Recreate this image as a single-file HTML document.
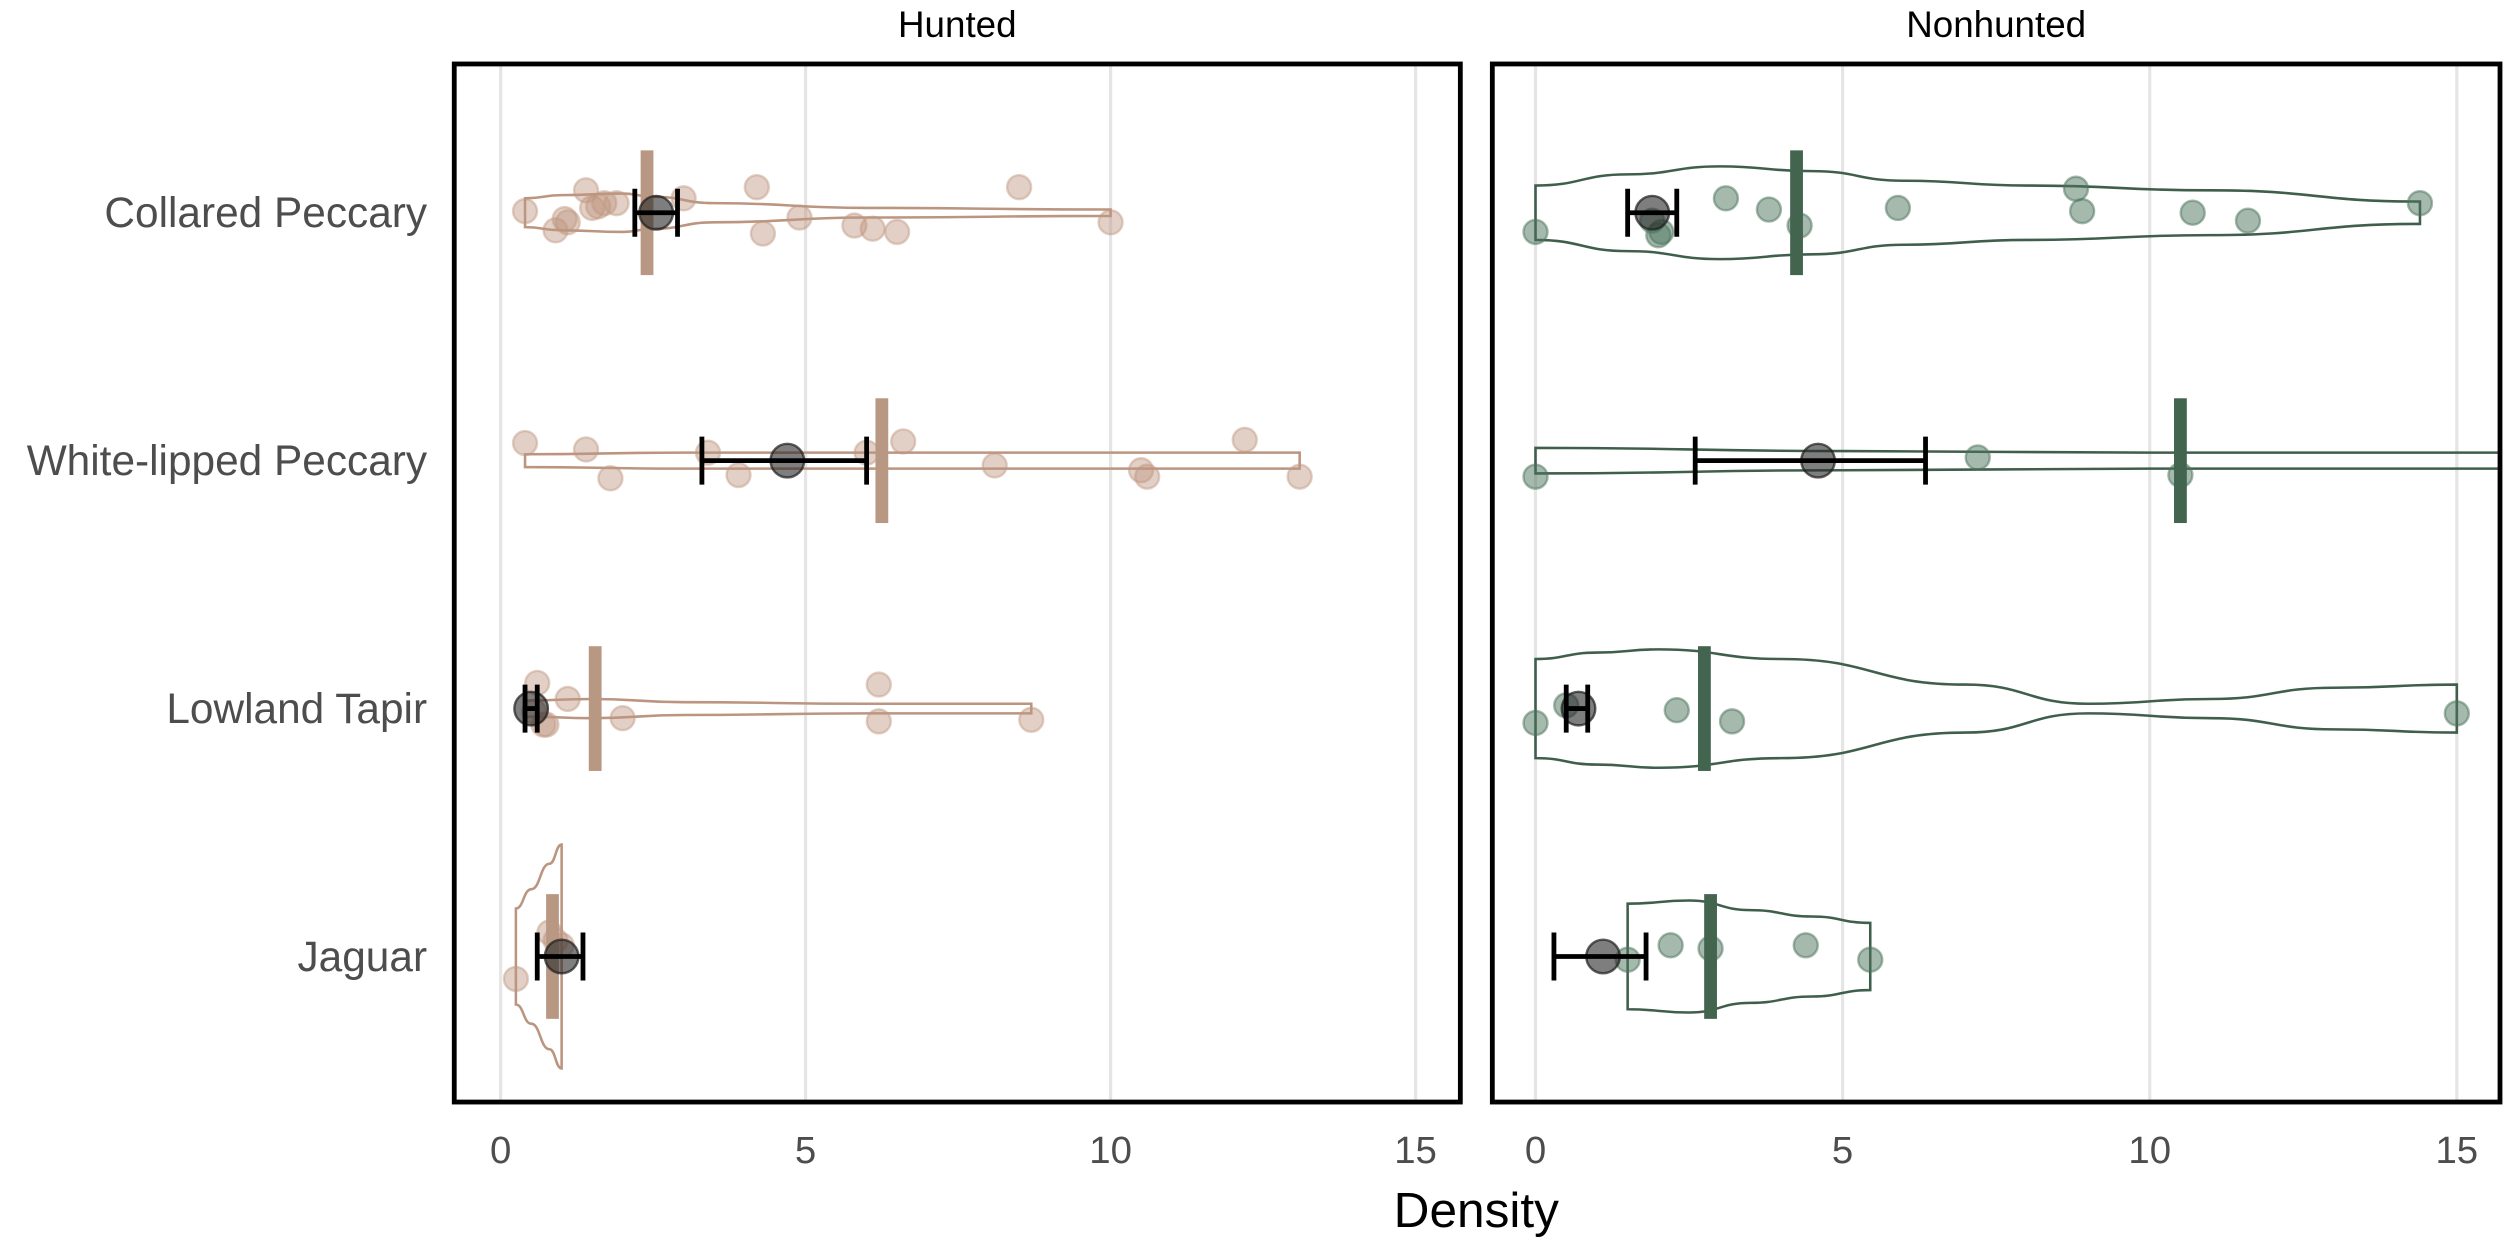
<!DOCTYPE html>
<html><head><meta charset="utf-8"><style>
html,body{margin:0;padding:0;background:#fff}
svg{display:block;font-family:"Liberation Sans",sans-serif}
</style></head><body>
<svg id="chart" width="2508" height="1244" viewBox="0 0 1568 777.75" xmlns="http://www.w3.org/2000/svg">
<defs>
<clipPath id="clipL"><rect x="285" y="41" width="627" height="647"/></clipPath>
<clipPath id="clipR"><rect x="934" y="41" width="628" height="647"/></clipPath>
</defs>
<g id="root"></g>
</svg>
<script>
const species = ["Collared Peccary","White-lipped Peccary","Lowland Tapir","Jaguar"];
const panels = ["Hunted","Nonhunted"];
const xTicks = [0,5,10,15];
// points: [value, vertical offset px]
const huntedPoints = [
 [[0.4,-1],[1.4,-14],[0.9,11],[1.1,6],[1.05,4],[1.5,-3],[1.6,-4],[1.7,-6],[1.9,-6],[3.0,-9],[4.2,-16],[4.3,13],[4.9,3],[5.8,8],[6.1,10],[6.5,12],[8.5,-16],[10.0,6]],
 [[0.4,-11],[1.4,-7],[1.8,11],[3.4,-5],[3.9,9],[6.0,-5],[6.6,-12],[8.1,3],[10.5,6],[10.6,10],[12.2,-13],[13.1,10]],
 [[0.6,-16],[0.55,2],[0.7,10],[0.75,10],[1.1,-6],[2.0,6],[6.2,-15],[6.2,8],[8.7,7]],
 [[0.25,14],[0.8,-15],[0.9,-10],[1.0,-7]]
];
const nonhuntedPoints = [
 [[0,12],[1.9,5],[2.0,14],[2.05,12],[3.1,-9],[3.8,-2],[4.3,8],[5.9,-3],[8.8,-15],[8.9,-1],[10.7,0],[11.6,5],[14.4,-6]],
 [[0,10],[7.2,-2],[10.5,9]],
 [[0,9],[0.5,-2],[2.3,1],[3.2,8],[15.0,3]],
 [[1.5,2],[2.2,-7],[2.85,-5],[4.4,-7],[5.45,2]]
];
const huntedMedian = [2.4,6.25,1.55,0.85];
const nonhuntedMedian = [4.25,10.5,2.75,2.85];
const huntedMean = [2.55,4.7,0.5,1.0];
const huntedLo = [2.2,3.3,0.4,0.6];
const huntedHi = [2.9,6.0,0.6,1.35];
const nonhuntedMean = [1.9,4.6,0.7,1.1];
const nonhuntedLo = [1.5,2.6,0.5,0.3];
const nonhuntedHi = [2.3,6.35,0.85,1.8];
// violin outlines: [value, half-width px]
const huntedViolin = [
 [[0.4,9],[1,11],[2,12],[2.5,10],[3.5,6],[6,3],[10,2]],
 [[0.4,4],[3,5],[7,5],[13.1,5]],
 [[0.4,5],[1.5,6],[3,4],[6,3],[8.7,3]],
 [[0.25,30],[0.5,42],[0.8,58],[1.0,70]]
];
const nonhuntedViolin = [
 [[0,17],[1.5,24],[3,29],[4.5,26],[6,20],[8,17],[11,14],[14.4,7]],
 [[0,8],[5,6],[10,5],[16,5]],
 [[0,31],[1,35],[2,37],[4,31],[7,15],[9,3],[11,6],[13,13],[15,15]],
 [[1.5,33],[2.5,35],[3.5,29],[4.5,25],[5.45,21]]
];
const rowY = [133,288,443,598];

const NS="http://www.w3.org/2000/svg";
const root=document.getElementById('root');
function mk(tag,attrs,parent){const e=document.createElementNS(NS,tag);for(const k in attrs)e.setAttribute(k,attrs[k]);(parent||root).appendChild(e);return e;}

const P=[
 {x0:313,x1:885,box:[284,40,629,649],clip:'url(#clipL)',fill:'rgba(190,150,128,0.45)',bar:'#b99883',pts:huntedPoints,med:huntedMedian,mean:huntedMean,lo:huntedLo,hi:huntedHi,vio:huntedViolin,lw:1.6,vcol:'#bb9580'},
 {x0:960,x1:1536,box:[933,40,630,649],clip:'url(#clipR)',fill:'rgba(75,115,92,0.5)',bar:'#43654f',pts:nonhuntedPoints,med:nonhuntedMedian,mean:nonhuntedMean,lo:nonhuntedLo,hi:nonhuntedHi,vio:nonhuntedViolin,lw:1.6,vcol:'#3f5f4c'}
];

P.forEach((p,pi)=>{
 const sx=v=>p.x0+(p.x1-p.x0)*v/15;
 const g=mk('g',{});
 
 
 const t=mk('text',{x:(p.box[0]+p.box[0]+p.box[2])/2,y:23,'text-anchor':'middle','font-size':23,fill:'#000'},g);
 t.textContent=panels[pi];
 
 
 xTicks.forEach(v=>{
  const gl=mk('line',{x1:sx(v),x2:sx(v),y1:41,y2:688,stroke:'#e5e5e5','stroke-width':2},g);
  
  
  const tl=mk('text',{x:sx(v),y:727,'text-anchor':'middle','font-size':24,fill:'#4d4d4d'},g);
  tl.textContent=v;
  
  
 });
 const cg=mk('g',{'clip-path':p.clip},g);
 species.forEach((s,i)=>{
  const y=rowY[i];
  const v=p.vio[i];
  let d='M'+sx(v[0][0])+','+(y-v[0][1]);
  const top=v.map(q=>[sx(q[0]),y-q[1]]);
  const bot=v.slice().reverse().map(q=>[sx(q[0]),y+q[1]]);
  function smooth(arr){let s='';for(let k=1;k<arr.length;k++){const a=arr[k-1],b=arr[k];const mx=(a[0]+b[0])/2;s+=' C'+mx+','+a[1]+' '+mx+','+b[1]+' '+b[0]+','+b[1];}return s;}
  d+=smooth(top)+' L'+bot[0][0]+','+bot[0][1]+smooth(bot)+' Z';
  const vp=mk('path',{d:d,fill:'none',stroke:p.vcol,'stroke-width':p.lw},cg);
  
  
  p.pts[i].forEach(q=>{
   const c=mk('circle',{cx:sx(q[0]),cy:y+q[1],r:7.5,fill:p.fill,stroke:p.fill,'stroke-width':1.5},cg);
   
   
  });
  const mb=mk('rect',{x:sx(p.med[i])-4,y:y-39,width:8,height:78,fill:p.bar},cg);
  
  
  const mc=mk('circle',{cx:sx(p.mean[i]),cy:y,r:10.5,fill:'rgba(40,40,40,0.6)',stroke:'rgba(30,30,30,0.7)','stroke-width':1.5},cg);
  
  
  const el=mk('path',{d:'M'+sx(p.lo[i])+','+y+' H'+sx(p.hi[i])+' M'+sx(p.lo[i])+','+(y-15)+' V'+(y+15)+' M'+sx(p.hi[i])+','+(y-15)+' V'+(y+15),stroke:'#000','stroke-width':3,fill:'none'},cg);
  
  
 });
 const bx=mk('rect',{x:p.box[0],y:p.box[1],width:p.box[2],height:p.box[3],fill:'none',stroke:'#000','stroke-width':3},g);
 
 
});
species.forEach((s,i)=>{
 const t=mk('text',{x:267,y:rowY[i]+9,'text-anchor':'end','font-size':26.5,fill:'#4d4d4d'});
 t.textContent=s;
 
 
});
const xt=mk('text',{x:923,y:767,'text-anchor':'middle','font-size':31,fill:'#000'});
xt.textContent='Density';


</script>
</body></html>
